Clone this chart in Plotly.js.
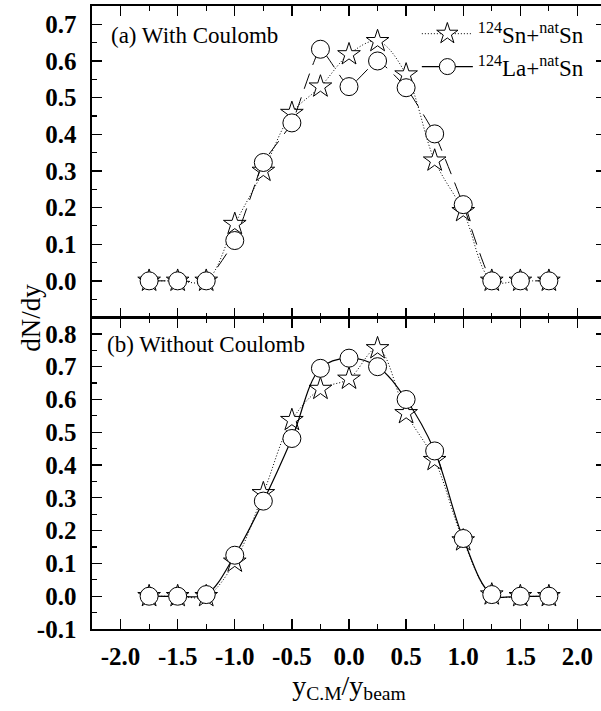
<!DOCTYPE html>
<html>
<head>
<meta charset="utf-8">
<script src="https://cdn.plot.ly/plotly-3.0.1.min.js"></script>
<style>
  html, body { margin: 0; padding: 0; overflow: hidden; background: #fff; }
  #chart { width: 608px; height: 711px; }
</style>
</head>
<body>
<div id="chart"></div>
<script>
// ---- data ----
const rapidity = [-1.75, -1.5, -1.25, -1.0, -0.75, -0.5, -0.25, 0.0, 0.25, 0.5, 0.75, 1.0, 1.25, 1.5, 1.75];

// (a) With Coulomb
const snWithCoulomb = [0, 0, 0, 0.155, 0.300, 0.458, 0.530, 0.618, 0.654, 0.563, 0.328, 0.190, 0, 0, 0];
const laWithCoulomb = [0, 0, 0, 0.110, 0.323, 0.431, 0.632, 0.530, 0.600, 0.527, 0.401, 0.208, 0, 0, 0];

// (b) Without Coulomb
const snWithoutCoulomb = [0, 0, 0, 0.105, 0.314, 0.537, 0.632, 0.663, 0.756, 0.558, 0.415, 0.170, 0.005, 0, 0];
const laWithoutCoulomb = [0, 0, 0.005, 0.125, 0.290, 0.481, 0.695, 0.726, 0.700, 0.600, 0.443, 0.176, 0.005, 0, 0];

const seriesNames = ['<sup>124</sup>Sn+<sup>nat</sup>Sn', '<sup>124</sup>La+<sup>nat</sup>Sn'];
const panelLabels = ['(a) With Coulomb', '(b) Without Coulomb'];

const xTickVals = [-2.0, -1.5, -1.0, -0.5, 0.0, 0.5, 1.0, 1.5, 2.0];
const xTickText = ['-2.0', '-1.5', '-1.0', '-0.5', '0.0', '0.5', '1.0', '1.5', '2.0'];
const yTopTickVals = [0.0, 0.1, 0.2, 0.3, 0.4, 0.5, 0.6, 0.7];
const yTopTickText = ['0.0', '0.1', '0.2', '0.3', '0.4', '0.5', '0.6', '0.7'];
const yBotTickVals = [-0.1, 0.0, 0.1, 0.2, 0.3, 0.4, 0.5, 0.6, 0.7, 0.8];
const yBotTickText = ['-0.1', '0.0', '0.1', '0.2', '0.3', '0.4', '0.5', '0.6', '0.7', '0.8'];

// ---- styling ----
const FONT = 'Liberation Serif, Times New Roman, serif';
const bold = arr => arr.map(t => '<b>' + t + '</b>');
const starMarker = { symbol: 'star', size: 17, color: '#ffffff', line: { color: '#000', width: 1 } };
const circleMarker = { symbol: 'circle', size: 18, color: '#ffffff', line: { color: '#000', width: 1 } };
const dottedLine = { color: '#000', width: 1, dash: '1px,2px', shape: 'spline', smoothing: 1 };

const traces = [
  { x: rapidity, y: snWithCoulomb, xaxis: 'x', yaxis: 'y', mode: 'lines+markers',
    name: seriesNames[0], showlegend: false, line: dottedLine, marker: starMarker },
  { x: rapidity, y: laWithCoulomb, xaxis: 'x', yaxis: 'y', mode: 'lines+markers',
    name: seriesNames[1], showlegend: false,
    line: { color: '#000', width: 1, dash: '16px,9px', shape: 'spline', smoothing: 0.4 }, marker: circleMarker },
  { x: rapidity, y: snWithoutCoulomb, xaxis: 'x2', yaxis: 'y2', mode: 'lines+markers',
    name: seriesNames[0], showlegend: true, line: dottedLine, marker: starMarker },
  { x: rapidity, y: laWithoutCoulomb, xaxis: 'x2', yaxis: 'y2', mode: 'lines+markers',
    name: seriesNames[1], showlegend: true,
    line: { color: '#000', width: 1.2, shape: 'spline', smoothing: 1 }, marker: circleMarker }
];

const tickFont = { family: FONT, size: 25, color: '#000' };

function xAxis(anchor, showLabels) {
  return {
    anchor: anchor, domain: [0, 1], range: [-2.25, 2.25],
    tickmode: 'array', tickvals: xTickVals, ticktext: bold(xTickText),
    showticklabels: showLabels, tickfont: tickFont, ticklabelstandoff: 4,
    ticks: 'inside', ticklen: 10, tickwidth: 1.3, tickcolor: '#000',
    minor: { tickmode: 'linear', tick0: 0, dtick: 0.25, ticks: 'inside', ticklen: 5, tickwidth: 1.2, tickcolor: '#000' },
    showline: true, linecolor: '#000', linewidth: 1.6, mirror: 'ticks',
    showgrid: false, zeroline: false, fixedrange: true
  };
}
function yAxis(anchor, domain, range, vals, text) {
  return {
    anchor: anchor, domain: domain, range: range,
    tickmode: 'array', tickvals: vals, ticktext: bold(text),
    tickfont: tickFont, ticklabelstandoff: 9,
    ticks: 'inside', ticklen: 10, tickwidth: 1.3, tickcolor: '#000',
    minor: { tickmode: 'linear', tick0: 0, dtick: 0.05, ticks: 'inside', ticklen: 5, tickwidth: 1.2, tickcolor: '#000' },
    showline: true, linecolor: '#000', linewidth: 1.6, mirror: 'ticks',
    showgrid: false, zeroline: false, fixedrange: true
  };
}

const xa2 = xAxis('y2', true);
xa2.title = { text: 'y<sub>C.M</sub>/y<sub>beam</sub>', font: { family: FONT, size: 28, color: '#000' }, standoff: 4 };

const layout = {
  width: 608, height: 711,
  margin: { l: 92, r: 2, t: 6, b: 82 },
  paper_bgcolor: '#fff', plot_bgcolor: '#fff',
  font: { family: FONT, color: '#000' },
  xaxis: xAxis('y', false),
  yaxis: yAxis('x', [0.5, 1], [-0.1, 0.75], yTopTickVals, yTopTickText),
  xaxis2: xa2,
  yaxis2: yAxis('x2', [0, 0.5], [-0.1, 0.85], yBotTickVals, yBotTickText),
  showlegend: true,
  legend: {
    x: 0.632, y: 0.99, xanchor: 'left', yanchor: 'top',
    bgcolor: 'rgba(0,0,0,0)', borderwidth: 0,
    font: { family: FONT, size: 23, color: '#000' },
    itemwidth: 51, tracegroupgap: 0
  },
  annotations: [
    { xref: 'paper', yref: 'paper', x: 0.033, y: 0.953, xanchor: 'left', yanchor: 'middle',
      text: panelLabels[0], showarrow: false, font: { family: FONT, size: 23, color: '#000' } },
    { xref: 'paper', yref: 'paper', x: 0.025, y: 0.456, xanchor: 'left', yanchor: 'middle',
      text: panelLabels[1], showarrow: false, font: { family: FONT, size: 23, color: '#000' } },
    { xref: 'paper', yref: 'paper', x: -0.12, y: 0.5, xanchor: 'center', yanchor: 'middle',
      textangle: -90, text: 'dN/dy', showarrow: false, font: { family: FONT, size: 27, color: '#000' } }
  ]
};

Plotly.newPlot('chart', traces, layout, { staticPlot: true, displayModeBar: false });
</script>
</body>
</html>
